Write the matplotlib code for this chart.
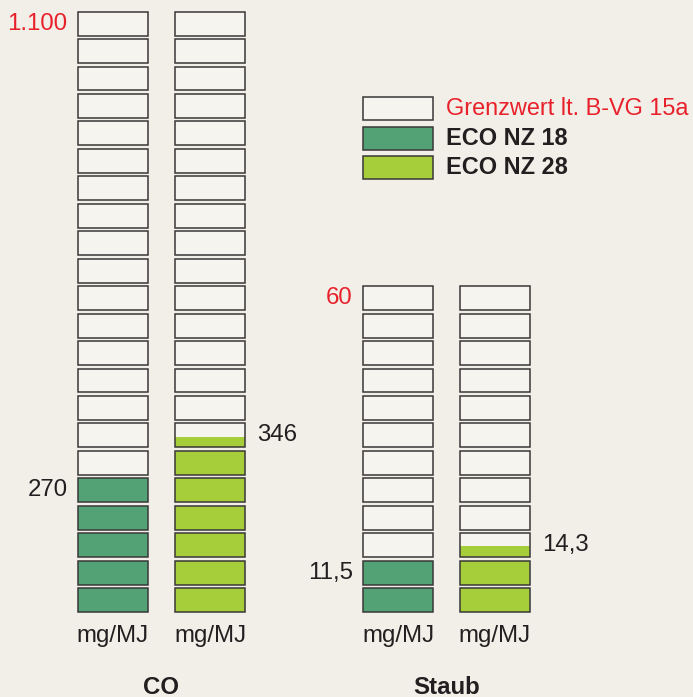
import matplotlib
matplotlib.use("Agg")
import matplotlib.pyplot as plt

plt.rcParams['font.family'] = ['Liberation Sans', 'DejaVu Sans']

# ---- data ----
groups = ["CO", "Staub"]
units = ["mg/MJ", "mg/MJ"]
limit_labels = ["1.100", "60"]
n_blocks = [22, 12]                       # blocks representing the limit
series = ["ECO NZ 18", "ECO NZ 28"]
value_labels = [["270", "346"], ["11,5", "14,3"]]
filled_blocks = [[5, 6.45], [2, 2.45]]    # blocks filled as drawn in the pictogram
legend_labels = ["Grenzwert lt. B-VG 15a", "ECO NZ 18", "ECO NZ 28"]

# ---- style ----
BG = "#f2efe9"
EMPTY = "#f6f4ef"
EDGE = "#3a3838"
COLORS = ["#52a276", "#a6cd3a"]
RED = "#e8212b"
TXT = "#231f20"
FS = 17.3
FS_LEG = 16.9

W, H = 693, 697
fig = plt.figure(figsize=(W / 100, H / 100), dpi=100, facecolor=BG)
ax = fig.add_axes([0, 0, 1, 1])
ax.set_facecolor(BG)
PITCH = 27.45
BASE = 612
ax.set_xlim(0, W)
ax.set_ylim((BASE - H) / PITCH, BASE / PITCH)
ax.axis("off")

BH = 0.87        # block height in block units
BW = 70
col_x = [[113, 210], [398, 495]]

for g in range(len(groups)):
    for s in range(len(series)):
        x = col_x[g][s]
        n = n_blocks[g]
        f = filled_blocks[g][s]
        for i in range(n):
            ax.bar(x, BH, bottom=i, width=BW, color=EMPTY, edgecolor="none", zorder=1)
            frac = max(0.0, min(1.0, f - i))
            if frac > 0:
                ax.bar(x, BH * frac, bottom=i, width=BW, color=COLORS[s],
                       edgecolor="none", zorder=2)
            ax.bar(x, BH, bottom=i, width=BW, fill=False, edgecolor=EDGE,
                   linewidth=1.1, zorder=3)
        # unit label
        ax.text(x, (BASE - 636) / PITCH, units[g], ha="center", va="center",
                fontsize=FS, color=TXT)
        # value label
        top_i = int(f) if f % 1 else int(f) - 1
        yc = top_i + BH / 2
        if s == 0:
            ax.text(x - BW / 2 - 10, yc, value_labels[g][s], ha="right", va="center",
                    fontsize=FS, color=TXT)
        else:
            ax.text(x + BW / 2 + 12, yc, value_labels[g][s], ha="left", va="center",
                    fontsize=FS, color=TXT)
    # limit label
    ax.text(col_x[g][0] - BW / 2 - 10.5, n_blocks[g] - 1 + BH / 2, limit_labels[g],
            ha="right", va="center", fontsize=FS, color=RED)
    # group label
    ax.text((col_x[g][0] + col_x[g][1]) / 2, (BASE - 687) / PITCH, groups[g],
            ha="center", va="center", fontsize=FS, color=TXT, fontweight="bold")

# ---- legend ----
leg_x = 398
leg_y_px = [108.5, 138.5, 167.5]
leg_faces = [EMPTY] + COLORS
leg_colors = [RED, TXT, TXT]
leg_weights = ["normal", "bold", "bold"]
for k, lab in enumerate(legend_labels):
    yc = (BASE - leg_y_px[k]) / PITCH
    ax.bar(leg_x, BH, bottom=yc - BH / 2, width=BW, color=leg_faces[k],
           edgecolor=EDGE, linewidth=1.1, zorder=3)
    ax.text(446, yc, lab, ha="left", va="center", fontsize=FS_LEG,
            color=leg_colors[k], fontweight=leg_weights[k])

fig.savefig("out.png", dpi=100, facecolor=BG)
